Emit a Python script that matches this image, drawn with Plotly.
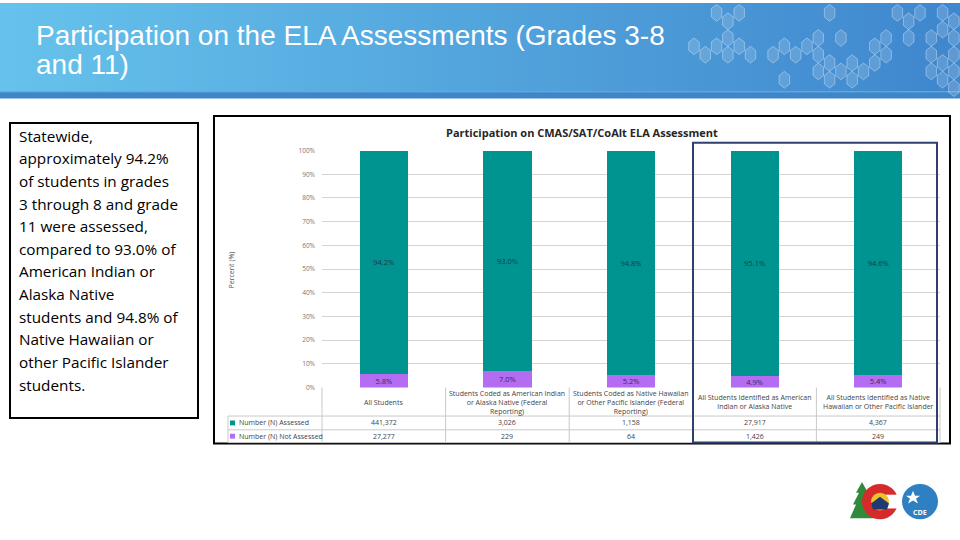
import plotly.graph_objects as go

# ---------------- data ----------------
categories = [
    "All Students",
    "Students Coded as American Indian<br>or Alaska Native (Federal<br>Reporting)",
    "Students Coded as Native Hawaiian<br>or Other Pacific Islander (Federal<br>Reporting)",
    "All Students Identified as American<br>Indian or Alaska Native",
    "All Students Identified as Native<br>Hawaiian or Other Pacific Islander",
]
pct_assessed = [94.2, 93.0, 94.8, 95.1, 94.6]
pct_not_assessed = [5.8, 7.0, 5.2, 4.9, 5.4]
n_assessed = ["441,372", "3,026", "1,158", "27,917", "4,367"]
n_not_assessed = ["27,277", "229", "64", "1,426", "249"]
row_labels = ["Number (N) Assessed", "Number (N) Not Assessed"]
y_ticks = [0, 10, 20, 30, 40, 50, 60, 70, 80, 90, 100]

slide_title = ["Participation on the ELA Assessments (Grades 3-8", "and 11)"]
chart_title = "Participation on CMAS/SAT/CoAlt ELA Assessment"
side_text = [
    "Statewide,",
    "approximately 94.2%",
    "of students in grades",
    "3 through 8 and grade",
    "11 were assessed,",
    "compared to 93.0% of",
    "American Indian or",
    "Alaska Native",
    "students and 94.8% of",
    "Native Hawaiian or",
    "other Pacific Islander",
    "students.",
]

TEAL = "#009490"
PURPLE = "#b46cf2"
W, H = 960, 540


def px(x):
    return x / W


def py(y):
    return 1 - y / H


# ---------------- layout geometry (pixels) ----------------
PLOT_L, PLOT_R = 322, 940
PLOT_T, PLOT_B = 148, 389
col_w = (PLOT_R - PLOT_L) / len(categories)

fig = go.Figure()

fig.add_trace(go.Bar(
    x=list(range(len(categories))), y=pct_not_assessed, marker_color=PURPLE,
    marker_line_width=0, text=[f"{v:.1f}%" for v in pct_not_assessed],
    textposition="inside", insidetextanchor="middle", textangle=0,
    constraintext="none",
    textfont=dict(size=7.5, color="#3a2a55", family="Open Sans"),
    hoverinfo="skip", showlegend=False,
))
fig.add_trace(go.Bar(
    x=list(range(len(categories))), y=pct_assessed, marker_color=TEAL,
    marker_line=dict(width=0), text=[f"{v:.1f}%" for v in pct_assessed],
    textposition="inside", insidetextanchor="middle", textangle=0,
    constraintext="none",
    textfont=dict(size=7.5, color="#1a3a48", family="Open Sans"),
    hoverinfo="skip", showlegend=False,
))

shapes = []
annotations = []

# ---- header gradient (decorative strips) ----
n_strips = 60
c0 = (102, 194, 236)
c1 = (64, 136, 206)
for i in range(n_strips):
    t = i / (n_strips - 1)
    c = tuple(int(c0[k] + (c1[k] - c0[k]) * t) for k in range(3))
    shapes.append(dict(type="rect", xref="paper", yref="paper",
                       x0=px(i * W / n_strips), x1=px((i + 1) * W / n_strips + 0.6),
                       y0=py(88), y1=py(-2), line_width=0,
                       fillcolor=f"rgb{c}", layer="below"))
shapes.append(dict(type="rect", xref="paper", yref="paper", x0=0, x1=1,
                   y0=py(95), y1=py(88), line_width=0, fillcolor="#3f86c8",
                   layer="below"))
shapes.append(dict(type="line", xref="paper", yref="paper", x0=0, x1=1,
                   y0=py(88.5), y1=py(88.5), line=dict(color="#5aa4dc", width=1)))

# ---- hexagon pattern (decorative) ----
hex_mask = [
    "..XXX.......X.....XXX.XX",
    "...X.......X.X...X.X.XXX",
    "XXXXXX.XXXXX....XX...X.X",
    "...........XXXXXX....XXX",
    "........X...X.X.......XX",
]
for r, row in enumerate(hex_mask):
    for c, ch in enumerate(row):
        if ch != "X":
            continue
        cx = 694 + c * 11.3
        cy = 8 + r * 17 + (c % 2) * 8.5
        w, h = 10.5, 17
        pts = [(cx, cy - h / 2), (cx + w / 2, cy - h / 4), (cx + w / 2, cy + h / 4),
               (cx, cy + h / 2), (cx - w / 2, cy + h / 4), (cx - w / 2, cy - h / 4)]
        path = "M " + " L ".join(f"{px(a):.5f},{py(b):.5f}" for a, b in pts) + " Z"
        shapes.append(dict(type="path", xref="paper", yref="paper", path=path,
                           fillcolor="rgba(255,255,255,0.15)",
                           line=dict(color="rgba(255,255,255,0.35)", width=1)))

# ---- slide title ----
for i, line in enumerate(slide_title):
    annotations.append(dict(text=line, xref="paper", yref="paper",
                            x=px(34), y=py(31 + i * 30), xanchor="left",
                            yanchor="middle", showarrow=False,
                            font=dict(family="Liberation Sans", size=28, color="white")))

# ---- side text box ----
shapes.append(dict(type="rect", xref="paper", yref="paper", x0=px(10), x1=px(198),
                   y0=py(420), y1=py(120), line=dict(color="black", width=2),
                   fillcolor="white"))
for i, line in enumerate(side_text):
    annotations.append(dict(text=line, xref="paper", yref="paper",
                            x=px(17), y=py(133 + i * 23), xanchor="left",
                            yanchor="middle", showarrow=False,
                            font=dict(family="Open Sans", size=15.3, color="black")))

# ---- chart frame ----
shapes.append(dict(type="rect", xref="paper", yref="paper", x0=px(214), x1=px(950),
                   y0=py(446), y1=py(113), line=dict(color="black", width=2),
                   fillcolor="rgba(0,0,0,0)"))
annotations.append(dict(text=f"<b>{chart_title}</b>", xref="paper", yref="paper",
                        x=px(582), y=py(130), xanchor="center", yanchor="middle",
                        showarrow=False,
                        font=dict(family="Open Sans", size=11, color="#262626")))
annotations.append(dict(text="Percent (%)", xref="paper", yref="paper",
                        x=px(231), y=py(270), textangle=-90, showarrow=False,
                        xanchor="center", yanchor="middle",
                        font=dict(family="Open Sans", size=7, color="#555")))

# ---- data table under the chart ----
GRID = "#c9c9c9"
row_y = [389, 418, 432, 445]
for xb in [PLOT_L + k * col_w for k in range(len(categories) + 1)]:
    shapes.append(dict(type="line", xref="paper", yref="paper", x0=px(xb), x1=px(xb),
                       y0=py(445), y1=py(389), line=dict(color=GRID, width=1)))
shapes.append(dict(type="line", xref="paper", yref="paper", x0=px(228), x1=px(228),
                   y0=py(445), y1=py(418), line=dict(color=GRID, width=1)))
for yb in row_y[1:]:
    shapes.append(dict(type="line", xref="paper", yref="paper", x0=px(228), x1=px(940),
                       y0=py(yb), y1=py(yb), line=dict(color=GRID, width=1)))

for k, cat in enumerate(categories):
    cx = PLOT_L + (k + 0.5) * col_w
    annotations.append(dict(text=cat, xref="paper", yref="paper", x=px(cx), y=py(404),
                            xanchor="center", yanchor="middle", showarrow=False,
                            align="center",
                            font=dict(family="Open Sans", size=7, color="#444")))
    for vals, yc in [(n_assessed, 425), (n_not_assessed, 438.5)]:
        annotations.append(dict(text=vals[k], xref="paper", yref="paper", x=px(cx),
                                y=py(yc), xanchor="center", yanchor="middle",
                                showarrow=False,
                                font=dict(family="Open Sans", size=7, color="#444")))

for label, color, yc in [(row_labels[0], TEAL, 425), (row_labels[1], PURPLE, 438.5)]:
    shapes.append(dict(type="rect", xref="paper", yref="paper", x0=px(230), x1=px(235),
                       y0=py(yc + 2.5), y1=py(yc - 2.5), line_width=0, fillcolor=color))
    annotations.append(dict(text=label, xref="paper", yref="paper", x=px(237),
                            y=py(yc), xanchor="left", yanchor="middle", showarrow=False,
                            font=dict(family="Open Sans", size=7, color="#444")))

# ---- highlight box ----
shapes.append(dict(type="rect", xref="paper", yref="paper", x0=px(693), x1=px(937),
                   y0=py(445), y1=py(140), line=dict(color="#2f3f6f", width=2),
                   fillcolor="rgba(0,0,0,0)"))

# ---- logos (decorative) ----
tree = [(850, 522), (856, 508), (853, 508), (859, 496), (856, 496), (862, 485),
        (868, 496), (865, 496), (871, 508), (868, 508), (874, 522)]
shapes.append(dict(type="path", xref="paper", yref="paper",
                   path="M " + " L ".join(f"{px(a):.5f},{py(b):.5f}" for a, b in tree) + " Z",
                   fillcolor="#2f8a3c", line_width=0))
shapes.append(dict(type="circle", xref="paper", yref="paper", x0=px(862), x1=px(898),
                   y0=py(523), y1=py(487), fillcolor="#d62b2b", line_width=0))
shapes.append(dict(type="rect", xref="paper", yref="paper", x0=px(885), x1=px(899),
                   y0=py(512), y1=py(498), fillcolor="white", line_width=0))
shapes.append(dict(type="circle", xref="paper", yref="paper", x0=px(871), x1=px(889),
                   y0=py(514), y1=py(496), fillcolor="#f2c12e", line_width=0))
mount = [(871, 507), (880, 500), (889, 507), (887, 513), (873, 513)]
shapes.append(dict(type="path", xref="paper", yref="paper",
                   path="M " + " L ".join(f"{px(a):.5f},{py(b):.5f}" for a, b in mount) + " Z",
                   fillcolor="#1e3a6e", line_width=0))
shapes.append(dict(type="circle", xref="paper", yref="paper", x0=px(902), x1=px(938),
                   y0=py(523), y1=py(487), fillcolor="#2f7fc3", line_width=0))
star = [(913, 494), (915, 499), (920, 499), (916, 502), (918, 507), (913, 504),
        (908, 507), (910, 502), (906, 499), (911, 499)]
shapes.append(dict(type="path", xref="paper", yref="paper",
                   path="M " + " L ".join(f"{px(a):.5f},{py(b):.5f}" for a, b in star) + " Z",
                   fillcolor="white", line_width=0))
annotations.append(dict(text="<b>CDE</b>", xref="paper", yref="paper", x=px(920),
                        y=py(516), showarrow=False, xanchor="center", yanchor="middle",
                        font=dict(family="Open Sans", size=7, color="white")))

fig.update_layout(
    width=W, height=H, margin=dict(l=0, r=0, t=0, b=0),
    paper_bgcolor="white", plot_bgcolor="white",
    barmode="stack", bargap=0.61,
    shapes=shapes, annotations=annotations,
    xaxis=dict(domain=[px(PLOT_L), px(PLOT_R)], range=[-0.5, len(categories) - 0.5],
               showticklabels=False, showgrid=False, zeroline=False,
               showline=False, fixedrange=True),
    yaxis=dict(domain=[py(PLOT_B), py(PLOT_T)], range=[0, 100], tickvals=y_ticks,
               ticktext=[f"{v}%" for v in y_ticks], showgrid=True,
               gridcolor="#d4d4d4", gridwidth=1, zeroline=False, showline=False,
               ticks="", ticklabelstandoff=6,
               tickfont=dict(family="Open Sans", size=6.5, color="#777"),
               fixedrange=True),
    hovermode=False,
)

fig.write_html(
    "out.html",
    config={"displayModeBar": False, "staticPlot": True},
    post_script=(
        "document.documentElement.style.margin='0';"
        "document.documentElement.style.overflow='hidden';"
        "document.documentElement.style.height='540px';"
        "document.body.style.margin='0';"
        "document.body.style.padding='0';"
        "document.body.style.overflow='hidden';"
        "document.body.style.height='540px';"
    ),
)
